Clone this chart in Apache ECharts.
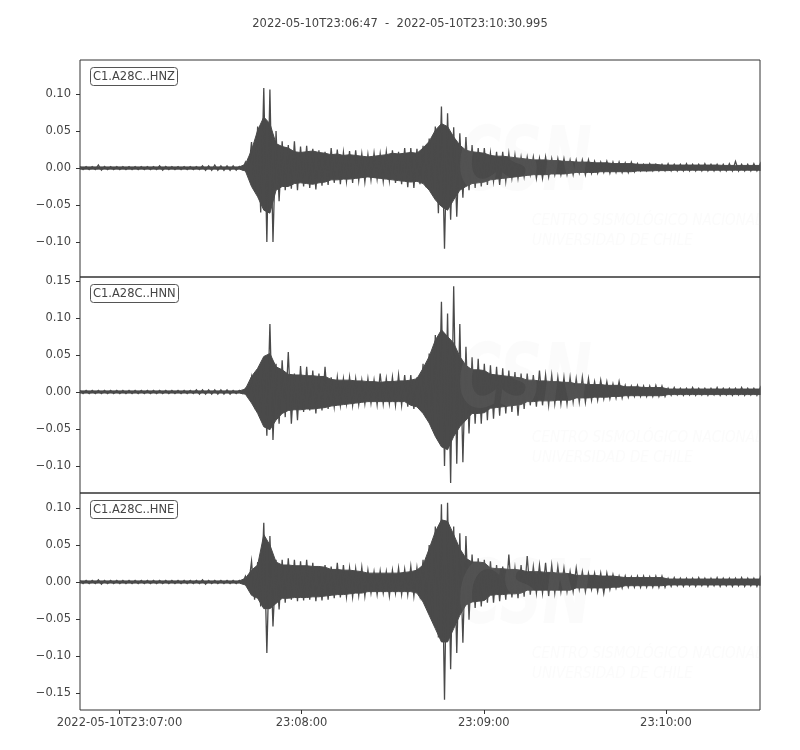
<!DOCTYPE html>
<html>
<head>
<meta charset="utf-8">
<script src="https://cdn.jsdelivr.net/npm/echarts@6/dist/echarts.min.js"></script>
<style>
html,body{margin:0;padding:0;background:#fff;}
#c{width:800px;height:750px;}
</style>
</head>
<body>
<div id="c"></div>
<script>
// Time span in seconds after 2022-05-10T23:06:47
var tStart = 0, tEnd = 223.995;
var titleText = '2022-05-10T23:06:47  -  2022-05-10T23:10:30.995';
var channels = ['C1.A28C..HNZ', 'C1.A28C..HNN', 'C1.A28C..HNE'];
var xTickValues = [13, 73, 133, 193];
var xTickLabels = ['2022-05-10T23:07:00', '23:08:00', '23:09:00', '23:10:00'];
var zTicks = [-0.10, -0.05, 0.00, 0.05, 0.10];
var nTicks = [-0.10, -0.05, 0.00, 0.05, 0.10, 0.15];
var eTicks = [-0.15, -0.10, -0.05, 0.00, 0.05, 0.10];
var zRange = [-0.1473, 0.146];
var nRange = [-0.1365, 0.1554];
var eRange = [-0.173, 0.1203];

// Per ~2 s bin: peak (spike) extremes and dense-body envelope
var zMax = [0.002,0.002,0.002,0.004,0.002,0.002,0.002,0.002,0.002,0.002,
0.002,0.002,0.002,0.003,0.002,0.002,0.002,0.002,0.002,0.002,
0.003,0.003,0.004,0.003,0.003,0.003,0.002,0.008,0.035,0.056,
0.108,0.106,0.05,0.036,0.031,0.036,0.029,0.03,0.026,0.024,
0.022,0.027,0.025,0.021,0.023,0.024,0.019,0.018,0.02,0.019,
0.022,0.024,0.022,0.027,0.027,0.026,0.03,0.04,0.056,0.083,
0.074,0.055,0.047,0.042,0.031,0.027,0.027,0.02,0.022,0.022,
0.02,0.018,0.015,0.015,0.015,0.013,0.015,0.013,0.013,0.013,
0.011,0.011,0.011,0.011,0.009,0.008,0.009,0.008,0.008,0.007,
0.008,0.006,0.005,0.006,0.005,0.005,0.006,0.005,0.005,0.006,
0.005,0.005,0.006,0.005,0.005,0.005,0.006,0.009,0.005,0.005,
0.006,0.005];
var zMin = [-0.002,-0.002,-0.002,-0.003,-0.002,-0.002,-0.002,-0.002,-0.002,-0.002,
-0.002,-0.002,-0.002,-0.003,-0.002,-0.002,-0.002,-0.002,-0.002,-0.002,
-0.003,-0.003,-0.003,-0.003,-0.003,-0.003,-0.002,-0.006,-0.03,-0.06,
-0.1,-0.1,-0.045,-0.03,-0.028,-0.03,-0.025,-0.027,-0.029,-0.024,
-0.023,-0.02,-0.022,-0.018,-0.02,-0.017,-0.019,-0.016,-0.015,-0.018,
-0.017,-0.02,-0.022,-0.026,-0.027,-0.022,-0.026,-0.034,-0.061,-0.109,
-0.07,-0.066,-0.04,-0.03,-0.027,-0.025,-0.023,-0.018,-0.023,-0.018,
-0.014,-0.014,-0.012,-0.009,-0.014,-0.014,-0.012,-0.009,-0.009,-0.009,
-0.009,-0.007,-0.009,-0.007,-0.007,-0.006,-0.007,-0.006,-0.006,-0.006,
-0.005,-0.004,-0.004,-0.004,-0.004,-0.004,-0.004,-0.004,-0.004,-0.004,
-0.004,-0.004,-0.004,-0.004,-0.004,-0.004,-0.004,-0.004,-0.004,-0.004,
-0.004,-0.004];
var zBodyMax = [0.0015,0.0015,0.0015,0.0015,0.0015,0.0015,0.0015,0.0015,0.0015,0.0015,
0.0015,0.0015,0.0015,0.0015,0.0015,0.0015,0.0015,0.0015,0.0015,0.0015,
0.0015,0.0015,0.0015,0.0015,0.0015,0.0015,0.0015,0.005,0.024,0.051,
0.069,0.06,0.033,0.029,0.027,0.022,0.021,0.022,0.023,0.021,
0.02,0.018,0.019,0.017,0.018,0.017,0.016,0.015,0.016,0.017,
0.018,0.02,0.019,0.02,0.021,0.02,0.027,0.036,0.051,0.06,
0.056,0.042,0.031,0.024,0.022,0.021,0.02,0.017,0.016,0.016,
0.015,0.014,0.013,0.012,0.011,0.011,0.011,0.01,0.01,0.009,
0.009,0.008,0.008,0.008,0.007,0.007,0.007,0.006,0.006,0.006,
0.006,0.005,0.005,0.005,0.005,0.004,0.004,0.004,0.004,0.004,
0.004,0.004,0.004,0.004,0.004,0.0035,0.0035,0.0035,0.0035,0.0035,
0.0035,0.0035];
var zBodyMin = [-0.0015,-0.0015,-0.0015,-0.0015,-0.0015,-0.0015,-0.0015,-0.0015,-0.0015,-0.0015,
-0.0015,-0.0015,-0.0015,-0.0015,-0.0015,-0.0015,-0.0015,-0.0015,-0.0015,-0.0015,
-0.0015,-0.0015,-0.0015,-0.0015,-0.0015,-0.0015,-0.0015,-0.004,-0.025,-0.039,
-0.057,-0.061,-0.03,-0.025,-0.025,-0.021,-0.02,-0.021,-0.022,-0.02,
-0.019,-0.016,-0.016,-0.015,-0.015,-0.014,-0.013,-0.012,-0.013,-0.014,
-0.015,-0.016,-0.017,-0.018,-0.019,-0.018,-0.021,-0.03,-0.043,-0.052,
-0.057,-0.043,-0.03,-0.025,-0.021,-0.02,-0.019,-0.016,-0.015,-0.014,
-0.013,-0.012,-0.011,-0.01,-0.009,-0.009,-0.009,-0.008,-0.008,-0.008,
-0.007,-0.006,-0.006,-0.006,-0.006,-0.005,-0.005,-0.005,-0.005,-0.005,
-0.005,-0.004,-0.004,-0.004,-0.0035,-0.0035,-0.0035,-0.003,-0.003,-0.003,
-0.003,-0.003,-0.003,-0.003,-0.003,-0.003,-0.003,-0.003,-0.003,-0.003,
-0.003,-0.003];

var nMax = [0.002,0.002,0.002,0.002,0.002,0.002,0.002,0.002,0.002,0.002,
0.002,0.002,0.002,0.002,0.002,0.002,0.002,0.002,0.002,0.003,
0.003,0.003,0.003,0.003,0.003,0.002,0.002,0.005,0.02,0.029,
0.047,0.092,0.038,0.043,0.054,0.025,0.035,0.034,0.029,0.025,
0.034,0.02,0.02,0.018,0.02,0.018,0.016,0.018,0.016,0.025,
0.018,0.02,0.023,0.023,0.023,0.02,0.038,0.052,0.077,0.122,
0.106,0.143,0.092,0.061,0.047,0.045,0.038,0.036,0.034,0.032,
0.029,0.027,0.025,0.025,0.023,0.029,0.023,0.023,0.02,0.02,
0.02,0.018,0.02,0.018,0.014,0.016,0.014,0.011,0.014,0.009,
0.008,0.009,0.008,0.008,0.009,0.008,0.005,0.006,0.005,0.005,
0.006,0.005,0.005,0.005,0.006,0.005,0.005,0.005,0.006,0.005,
0.005,0.005];
var nMin = [-0.002,-0.002,-0.002,-0.002,-0.002,-0.002,-0.002,-0.002,-0.002,-0.002,
-0.002,-0.002,-0.002,-0.002,-0.002,-0.002,-0.002,-0.002,-0.002,-0.003,
-0.003,-0.003,-0.003,-0.003,-0.003,-0.002,-0.002,-0.004,-0.016,-0.029,
-0.059,-0.065,-0.043,-0.034,-0.043,-0.038,-0.027,-0.025,-0.029,-0.025,
-0.023,-0.02,-0.018,-0.016,-0.018,-0.017,-0.016,-0.015,-0.017,-0.016,
-0.016,-0.018,-0.018,-0.02,-0.023,-0.024,-0.034,-0.05,-0.065,-0.1,
-0.123,-0.097,-0.095,-0.056,-0.043,-0.043,-0.038,-0.036,-0.032,-0.029,
-0.027,-0.032,-0.023,-0.018,-0.02,-0.018,-0.018,-0.016,-0.016,-0.016,
-0.014,-0.014,-0.014,-0.011,-0.011,-0.009,-0.009,-0.008,-0.008,-0.007,
-0.006,-0.006,-0.006,-0.006,-0.006,-0.006,-0.0045,-0.004,-0.0045,-0.004,
-0.0045,-0.004,-0.0045,-0.004,-0.0045,-0.004,-0.0045,-0.004,-0.0045,-0.004,
-0.0045,-0.004];
var nBodyMax = [0.0015,0.0015,0.0015,0.0015,0.0015,0.0015,0.0015,0.0015,0.0015,0.0015,
0.0015,0.0015,0.0015,0.0015,0.0015,0.0015,0.0015,0.0015,0.0015,0.0015,
0.0015,0.0015,0.0015,0.0015,0.0015,0.0015,0.0015,0.004,0.021,0.032,
0.048,0.052,0.034,0.03,0.024,0.023,0.023,0.022,0.022,0.021,
0.021,0.017,0.016,0.016,0.016,0.015,0.015,0.014,0.014,0.013,
0.014,0.014,0.015,0.015,0.016,0.018,0.032,0.048,0.07,0.084,
0.075,0.066,0.048,0.036,0.03,0.03,0.029,0.024,0.023,0.022,
0.021,0.02,0.019,0.016,0.016,0.015,0.015,0.014,0.014,0.013,
0.013,0.011,0.011,0.01,0.01,0.01,0.009,0.009,0.009,0.007,
0.007,0.007,0.006,0.006,0.006,0.006,0.004,0.004,0.004,0.004,
0.004,0.004,0.004,0.004,0.004,0.004,0.004,0.004,0.004,0.004,
0.004,0.004];
var nBodyMin = [-0.0015,-0.0015,-0.0015,-0.0015,-0.0015,-0.0015,-0.0015,-0.0015,-0.0015,-0.0015,
-0.0015,-0.0015,-0.0015,-0.0015,-0.0015,-0.0015,-0.0015,-0.0015,-0.0015,-0.0015,
-0.0015,-0.0015,-0.0015,-0.0015,-0.0015,-0.0015,-0.0015,-0.003,-0.015,-0.029,
-0.047,-0.051,-0.038,-0.029,-0.025,-0.024,-0.024,-0.023,-0.023,-0.022,
-0.021,-0.019,-0.018,-0.017,-0.016,-0.015,-0.014,-0.013,-0.013,-0.013,
-0.013,-0.013,-0.013,-0.013,-0.018,-0.02,-0.029,-0.042,-0.06,-0.074,
-0.078,-0.06,-0.047,-0.038,-0.029,-0.029,-0.028,-0.022,-0.021,-0.02,
-0.019,-0.018,-0.017,-0.013,-0.013,-0.012,-0.012,-0.012,-0.011,-0.011,
-0.011,-0.008,-0.008,-0.008,-0.007,-0.007,-0.007,-0.006,-0.006,-0.005,
-0.005,-0.005,-0.005,-0.005,-0.005,-0.005,-0.0035,-0.0035,-0.0035,-0.0035,
-0.0035,-0.0035,-0.0035,-0.0035,-0.0035,-0.0035,-0.0035,-0.0035,-0.0035,-0.0035,
-0.0035,-0.0035];

var eMax = [0.002,0.002,0.002,0.003,0.002,0.002,0.002,0.002,0.002,0.002,
0.002,0.002,0.002,0.002,0.002,0.002,0.002,0.002,0.002,0.002,
0.003,0.002,0.002,0.002,0.002,0.002,0.002,0.008,0.028,0.027,
0.08,0.062,0.03,0.03,0.032,0.03,0.028,0.03,0.026,0.019,
0.023,0.021,0.026,0.023,0.019,0.018,0.02,0.016,0.014,0.015,
0.014,0.016,0.019,0.017,0.021,0.019,0.03,0.05,0.075,0.105,
0.107,0.075,0.066,0.062,0.037,0.032,0.03,0.028,0.023,0.021,
0.037,0.019,0.023,0.035,0.021,0.023,0.026,0.023,0.021,0.019,
0.014,0.019,0.014,0.012,0.012,0.012,0.012,0.01,0.008,0.008,
0.007,0.008,0.008,0.007,0.008,0.008,0.005,0.006,0.005,0.005,
0.005,0.006,0.005,0.005,0.006,0.005,0.005,0.005,0.006,0.005,
0.005,0.005];
var eMin = [-0.002,-0.002,-0.002,-0.003,-0.002,-0.002,-0.002,-0.002,-0.002,-0.002,
-0.002,-0.002,-0.002,-0.002,-0.002,-0.002,-0.002,-0.002,-0.002,-0.002,
-0.003,-0.002,-0.002,-0.002,-0.002,-0.002,-0.002,-0.006,-0.024,-0.033,
-0.096,-0.06,-0.037,-0.028,-0.024,-0.026,-0.025,-0.024,-0.026,-0.025,
-0.024,-0.022,-0.021,-0.02,-0.02,-0.018,-0.019,-0.015,-0.017,-0.015,
-0.019,-0.015,-0.017,-0.017,-0.019,-0.017,-0.032,-0.052,-0.075,-0.159,
-0.118,-0.096,-0.082,-0.051,-0.035,-0.033,-0.028,-0.028,-0.026,-0.024,
-0.021,-0.022,-0.02,-0.017,-0.015,-0.015,-0.019,-0.015,-0.013,-0.013,
-0.013,-0.01,-0.013,-0.01,-0.013,-0.015,-0.01,-0.008,-0.008,-0.007,
-0.007,-0.007,-0.007,-0.007,-0.007,-0.007,-0.006,-0.005,-0.006,-0.005,
-0.006,-0.005,-0.006,-0.005,-0.006,-0.005,-0.006,-0.005,-0.006,-0.005,
-0.006,-0.005];
var eBodyMax = [0.0015,0.0015,0.0015,0.0015,0.0015,0.0015,0.0015,0.0015,0.0015,0.0015,
0.0015,0.0015,0.0015,0.0015,0.0015,0.0015,0.0015,0.0015,0.0015,0.0015,
0.0015,0.0015,0.0015,0.0015,0.0015,0.0015,0.0015,0.005,0.016,0.023,
0.064,0.05,0.027,0.023,0.023,0.022,0.022,0.022,0.021,0.021,
0.02,0.017,0.017,0.016,0.016,0.015,0.014,0.012,0.012,0.012,
0.012,0.012,0.012,0.013,0.014,0.016,0.023,0.045,0.068,0.084,
0.082,0.064,0.045,0.032,0.027,0.027,0.026,0.019,0.018,0.018,
0.017,0.017,0.016,0.014,0.014,0.014,0.013,0.013,0.012,0.012,
0.011,0.009,0.009,0.009,0.009,0.008,0.008,0.008,0.007,0.006,
0.006,0.006,0.006,0.006,0.006,0.006,0.004,0.004,0.004,0.004,
0.004,0.004,0.004,0.004,0.004,0.004,0.004,0.004,0.004,0.004,
0.004,0.004];
var eBodyMin = [-0.0015,-0.0015,-0.0015,-0.0015,-0.0015,-0.0015,-0.0015,-0.0015,-0.0015,-0.0015,
-0.0015,-0.0015,-0.0015,-0.0015,-0.0015,-0.0015,-0.0015,-0.0015,-0.0015,-0.0015,
-0.0015,-0.0015,-0.0015,-0.0015,-0.0015,-0.0015,-0.0015,-0.004,-0.018,-0.022,
-0.036,-0.036,-0.029,-0.022,-0.022,-0.021,-0.021,-0.021,-0.02,-0.02,
-0.019,-0.018,-0.017,-0.017,-0.016,-0.015,-0.015,-0.013,-0.013,-0.013,
-0.013,-0.013,-0.013,-0.013,-0.013,-0.015,-0.027,-0.045,-0.063,-0.081,
-0.081,-0.063,-0.045,-0.031,-0.027,-0.026,-0.025,-0.018,-0.017,-0.017,
-0.016,-0.016,-0.015,-0.011,-0.011,-0.011,-0.011,-0.011,-0.011,-0.011,
-0.011,-0.008,-0.008,-0.008,-0.008,-0.008,-0.008,-0.007,-0.007,-0.005,
-0.005,-0.005,-0.005,-0.005,-0.005,-0.005,-0.004,-0.004,-0.004,-0.004,
-0.004,-0.004,-0.004,-0.004,-0.004,-0.004,-0.004,-0.004,-0.004,-0.004,
-0.004,-0.004];

var WAVE = '#4a4a4a';
var TXT = '#444444';
var AX = '#333333';
var FONT = 'DejaVu Sans';
var FS = 11.5;

function binTime(i, n) { return tStart + i * (tEnd - tStart) / (n - 1); }
function toPts(arr) {
  return arr.map(function (v, i) { return [binTime(i, arr.length), v]; });
}
// zig-zag trace: each bin's maximum, then its minimum half a bin later
function zigzag(mx, mn) {
  var n = mx.length, half = (tEnd - tStart) / (n - 1) / 2, out = [];
  for (var i = 0; i < n; i++) {
    var t = binTime(i, n);
    out.push([t, mx[i]]);
    if (i < n - 1) out.push([t + half, mn[i]]);
    else out.push([t, mn[i]]);
  }
  return out;
}
function fmtY(v) {
  var s = Math.abs(v).toFixed(2);
  return (v < -1e-9 ? '\u2212' : '') + s;
}

var panels = [
  {pMax: zMax, pMin: zMin, bMax: zBodyMax, bMin: zBodyMin, ticks: zTicks, range: zRange, top: 60, h: 217},
  {pMax: nMax, pMin: nMin, bMax: nBodyMax, bMin: nBodyMin, ticks: nTicks, range: nRange, top: 277, h: 216},
  {pMax: eMax, pMin: eMin, bMax: eBodyMax, bMin: eBodyMin, ticks: eTicks, range: eRange, top: 493, h: 217}
];

var grids = [], xAxes = [], yAxes = [], series = [], titles = [], graphics = [];
titles.push({
  text: titleText, left: 'center', top: 13,
  textStyle: {fontFamily: FONT, fontSize: FS, fontWeight: 'normal', color: TXT}
});
panels.forEach(function (p, k) {
  var last = (k === panels.length - 1);
  grids.push({left: 80, right: 40, top: p.top, height: p.h, show: true,
    borderColor: AX, borderWidth: 1, backgroundColor: 'transparent'});
  xAxes.push({
    type: 'value', gridIndex: k, min: tStart, max: tEnd,
    axisLine: {show: false, onZero: false},
    splitLine: {show: false},
    axisTick: {show: last, length: 4, inside: false, customValues: xTickValues,
      lineStyle: {color: AX, width: 1}},
    axisLabel: {show: last, customValues: xTickValues, margin: 7,
      fontFamily: FONT, fontSize: FS, color: TXT,
      formatter: function (v) {
        var idx = xTickValues.indexOf(Math.round(v));
        return idx >= 0 ? xTickLabels[idx] : '';
      }}
  });
  yAxes.push({
    type: 'value', gridIndex: k, min: p.range[0], max: p.range[1],
    axisLine: {show: false, onZero: false},
    splitLine: {show: false},
    axisTick: {show: true, length: 4, inside: false, customValues: p.ticks,
      lineStyle: {color: AX, width: 1}},
    axisLabel: {customValues: p.ticks, margin: 9, fontFamily: FONT, fontSize: FS,
      color: TXT, formatter: fmtY}
  });
  [p.bMax, p.bMin].forEach(function (arr) {
    series.push({
      type: 'line', xAxisIndex: k, yAxisIndex: k, data: toPts(arr),
      showSymbol: false, symbol: 'none', silent: true, animation: false,
      lineStyle: {color: WAVE, width: 1},
      areaStyle: {color: WAVE, opacity: 1, origin: 0},
      z: 2
    });
  });
  series.push({
    type: 'line', xAxisIndex: k, yAxisIndex: k, data: zigzag(p.pMax, p.pMin),
    showSymbol: false, symbol: 'none', silent: true, animation: false,
    lineStyle: {color: WAVE, width: 1.3, join: 'miter'},
    z: 3
  });
  titles.push({
    text: channels[k], left: 90, top: p.top + 7,
    padding: [4, 3, 3, 3],
    borderColor: '#555555', borderWidth: 1, borderRadius: 3,
    backgroundColor: '#ffffff',
    textStyle: {fontFamily: FONT, fontSize: FS, fontWeight: 'normal', color: TXT}
  });
  // faint CSN watermark
  var wmFill = 'rgba(200,200,200,0.07)';
  graphics.push({type: 'text', x: 458, y: p.top + 62, scaleX: 0.9, scaleY: 1.35, z: 100, silent: true,
    style: {text: 'CSN', fill: wmFill, font: 'italic bold 66px "DejaVu Sans"'}});
  graphics.push({type: 'text', x: 532, y: p.top + 154, z: 100, silent: true,
    style: {text: 'CENTRO SISMOLÓGICO NACIONAL', fill: wmFill, font: 'italic 15px "DejaVu Sans Condensed", "DejaVu Sans"'}});
  graphics.push({type: 'text', x: 532, y: p.top + 174, z: 100, silent: true,
    style: {text: 'UNIVERSIDAD DE CHILE', fill: wmFill, font: 'italic 15px "DejaVu Sans Condensed", "DejaVu Sans"'}});
});

var chart = echarts.init(document.getElementById('c'), null, {renderer: 'canvas'});
chart.setOption({
  backgroundColor: '#ffffff',
  animation: false,
  title: titles,
  grid: grids,
  xAxis: xAxes,
  yAxis: yAxes,
  series: series,
  graphic: graphics
});
</script>
</body>
</html>
